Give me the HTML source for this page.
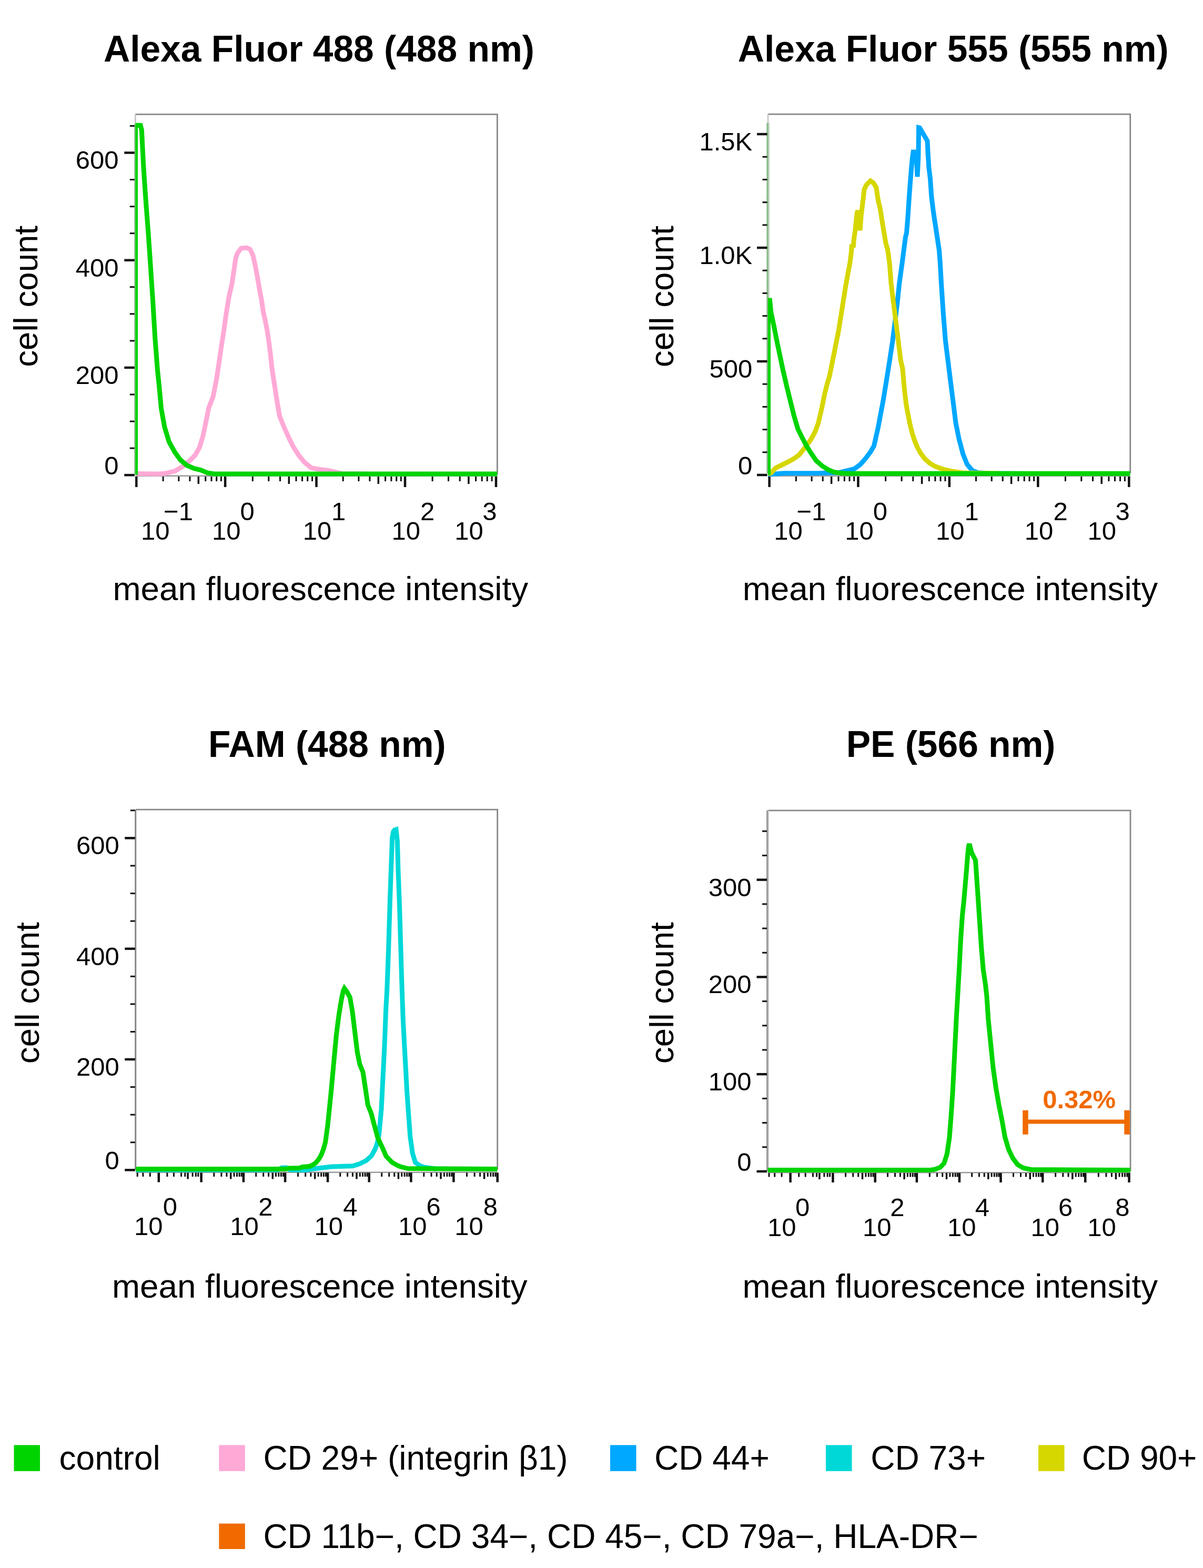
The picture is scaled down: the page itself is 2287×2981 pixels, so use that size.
<!DOCTYPE html>
<html><head><meta charset="utf-8"><title>Flow cytometry histograms</title>
<style>html,body{margin:0;padding:0;background:#fff;}svg{display:block;}</style></head>
<body>
<svg width="2287" height="2981" viewBox="0 0 2287 2981" font-family='"Liberation Sans", sans-serif'>
<rect width="100%" height="100%" fill="#fff"/>
<text x="606.4" y="116.6" font-size="69.5" text-anchor="middle" font-weight="bold">Alexa Fluor 488 (488 nm)</text>
<text x="1812.3" y="117" font-size="69.5" text-anchor="middle" font-weight="bold">Alexa Fluor 555 (555 nm)</text>
<text x="621.8" y="1438.5" font-size="69.5" text-anchor="middle" font-weight="bold">FAM (488 nm)</text>
<text x="1807.6" y="1439" font-size="69.5" text-anchor="middle" font-weight="bold">PE (566 nm)</text>
<text x="609.3" y="1141" font-size="63.7" text-anchor="middle">mean fluorescence intensity</text>
<text x="1806.4" y="1141" font-size="63.7" text-anchor="middle">mean fluorescence intensity</text>
<text x="607.8" y="2467.1" font-size="63.7" text-anchor="middle">mean fluorescence intensity</text>
<text x="1806.3" y="2467.1" font-size="63.7" text-anchor="middle">mean fluorescence intensity</text>
<text transform="translate(70.8,563.3) rotate(-90)" font-size="63.7" text-anchor="middle">cell count</text>
<text transform="translate(1280.3,563.6) rotate(-90)" font-size="63.7" text-anchor="middle">cell count</text>
<text transform="translate(73.5,1887.6) rotate(-90)" font-size="63.7" text-anchor="middle">cell count</text>
<text transform="translate(1279.9,1887.6) rotate(-90)" font-size="63.7" text-anchor="middle">cell count</text>
<defs><clipPath id="c1"><rect x="257.3" y="210" width="688.1" height="696"/></clipPath><clipPath id="c2"><rect x="1460" y="210" width="688.7" height="696"/></clipPath><clipPath id="c3"><rect x="258.2" y="1530" width="687.5" height="699"/></clipPath><clipPath id="c4"><rect x="1459.5" y="1530" width="689.5" height="702"/></clipPath></defs>
<line x1="257.3" y1="904.8" x2="945.4" y2="904.8" stroke="#9a9a9a" stroke-width="2.5"/>
<path d="M257.3,217.4 H945.4 V902.5" fill="none" stroke="#888" stroke-width="2.8" stroke-linejoin="miter"/>
<line x1="257.3" y1="217.4" x2="257.3" y2="236" stroke="#c8c8c8" stroke-width="3"/>
<line x1="256.5" y1="236" x2="256.5" y2="902.5" stroke="#86bb86" stroke-width="2.4"/>
<line x1="258.7" y1="236" x2="258.7" y2="902.5" stroke="#b0cbb0" stroke-width="2"/>
<line x1="236.3" y1="903.2" x2="255.8" y2="903.2" stroke="#111" stroke-width="4.5"/>
<line x1="236.3" y1="698.9" x2="255.8" y2="698.9" stroke="#111" stroke-width="4.5"/>
<line x1="236.3" y1="494.7" x2="255.8" y2="494.7" stroke="#111" stroke-width="4.5"/>
<line x1="236.3" y1="290.4" x2="255.8" y2="290.4" stroke="#111" stroke-width="4.5"/>
<line x1="246.8" y1="852.1" x2="255.8" y2="852.1" stroke="#111" stroke-width="3"/>
<line x1="246.8" y1="801.1" x2="255.8" y2="801.1" stroke="#111" stroke-width="3"/>
<line x1="246.8" y1="750" x2="255.8" y2="750" stroke="#111" stroke-width="3"/>
<line x1="246.8" y1="647.9" x2="255.8" y2="647.9" stroke="#111" stroke-width="3"/>
<line x1="246.8" y1="596.8" x2="255.8" y2="596.8" stroke="#111" stroke-width="3"/>
<line x1="246.8" y1="545.7" x2="255.8" y2="545.7" stroke="#111" stroke-width="3"/>
<line x1="246.8" y1="443.6" x2="255.8" y2="443.6" stroke="#111" stroke-width="3"/>
<line x1="246.8" y1="392.6" x2="255.8" y2="392.6" stroke="#111" stroke-width="3"/>
<line x1="246.8" y1="341.5" x2="255.8" y2="341.5" stroke="#111" stroke-width="3"/>
<line x1="246.8" y1="239.4" x2="255.8" y2="239.4" stroke="#111" stroke-width="3"/>
<text x="225.4" y="901.7" font-size="49" text-anchor="end">0</text>
<text x="225.4" y="729.9" font-size="49" text-anchor="end">200</text>
<text x="225.4" y="525.7" font-size="49" text-anchor="end">400</text>
<text x="225.4" y="321.4" font-size="49" text-anchor="end">600</text>
<line x1="259.3" y1="906" x2="259.3" y2="926" stroke="#111" stroke-width="4.5"/>
<line x1="428.1" y1="906" x2="428.1" y2="926" stroke="#111" stroke-width="4.5"/>
<line x1="601.5" y1="906" x2="601.5" y2="926" stroke="#111" stroke-width="4.5"/>
<line x1="770" y1="906" x2="770" y2="926" stroke="#111" stroke-width="4.5"/>
<line x1="943" y1="906" x2="943" y2="926" stroke="#111" stroke-width="4.5"/>
<line x1="377.3" y1="906" x2="377.3" y2="920" stroke="#111" stroke-width="3.5"/>
<line x1="549.3" y1="906" x2="549.3" y2="920" stroke="#111" stroke-width="3.5"/>
<line x1="719.3" y1="906" x2="719.3" y2="920" stroke="#111" stroke-width="3.5"/>
<line x1="890.9" y1="906" x2="890.9" y2="920" stroke="#111" stroke-width="3.5"/>
<line x1="310.1" y1="906" x2="310.1" y2="915" stroke="#111" stroke-width="3"/>
<line x1="339.8" y1="906" x2="339.8" y2="915" stroke="#111" stroke-width="3"/>
<line x1="360.9" y1="906" x2="360.9" y2="915" stroke="#111" stroke-width="3"/>
<line x1="390.7" y1="906" x2="390.7" y2="915" stroke="#111" stroke-width="3"/>
<line x1="402" y1="906" x2="402" y2="915" stroke="#111" stroke-width="3"/>
<line x1="411.7" y1="906" x2="411.7" y2="915" stroke="#111" stroke-width="3"/>
<line x1="420.4" y1="906" x2="420.4" y2="915" stroke="#111" stroke-width="3"/>
<line x1="480.3" y1="906" x2="480.3" y2="915" stroke="#111" stroke-width="3"/>
<line x1="510.8" y1="906" x2="510.8" y2="915" stroke="#111" stroke-width="3"/>
<line x1="532.5" y1="906" x2="532.5" y2="915" stroke="#111" stroke-width="3"/>
<line x1="563" y1="906" x2="563" y2="915" stroke="#111" stroke-width="3"/>
<line x1="574.6" y1="906" x2="574.6" y2="915" stroke="#111" stroke-width="3"/>
<line x1="584.7" y1="906" x2="584.7" y2="915" stroke="#111" stroke-width="3"/>
<line x1="593.6" y1="906" x2="593.6" y2="915" stroke="#111" stroke-width="3"/>
<line x1="652.2" y1="906" x2="652.2" y2="915" stroke="#111" stroke-width="3"/>
<line x1="681.9" y1="906" x2="681.9" y2="915" stroke="#111" stroke-width="3"/>
<line x1="702.9" y1="906" x2="702.9" y2="915" stroke="#111" stroke-width="3"/>
<line x1="732.6" y1="906" x2="732.6" y2="915" stroke="#111" stroke-width="3"/>
<line x1="743.9" y1="906" x2="743.9" y2="915" stroke="#111" stroke-width="3"/>
<line x1="753.7" y1="906" x2="753.7" y2="915" stroke="#111" stroke-width="3"/>
<line x1="762.3" y1="906" x2="762.3" y2="915" stroke="#111" stroke-width="3"/>
<line x1="822.1" y1="906" x2="822.1" y2="915" stroke="#111" stroke-width="3"/>
<line x1="852.5" y1="906" x2="852.5" y2="915" stroke="#111" stroke-width="3"/>
<line x1="874.2" y1="906" x2="874.2" y2="915" stroke="#111" stroke-width="3"/>
<line x1="904.6" y1="906" x2="904.6" y2="915" stroke="#111" stroke-width="3"/>
<line x1="916.2" y1="906" x2="916.2" y2="915" stroke="#111" stroke-width="3"/>
<line x1="926.2" y1="906" x2="926.2" y2="915" stroke="#111" stroke-width="3"/>
<line x1="935.1" y1="906" x2="935.1" y2="915" stroke="#111" stroke-width="3"/>
<text x="267.9" y="1026" font-size="49">10</text>
<text x="311.1" y="988.5" font-size="49">−1</text>
<text x="402.9" y="1026" font-size="49">10</text>
<text x="456.5" y="988.5" font-size="49">0</text>
<text x="575.7" y="1026" font-size="49">10</text>
<text x="630.1" y="988.5" font-size="49">1</text>
<text x="744.4" y="1026" font-size="49">10</text>
<text x="799.1" y="988.5" font-size="49">2</text>
<text x="864.3" y="1026" font-size="49">10</text>
<text x="917.3" y="988.5" font-size="49">3</text>
<path d="M259,900.5 L300,901 L312.9,900.3 L332.1,895.7 L347.1,887.1 L360,876.4 L370.7,865.7 L379.3,850.7 L385.7,829.3 L390.3,807.9 L396.8,775.7 L405,754.3 L411.4,722.1 L415.5,695 L420,664.3 L425.5,628.6 L430.5,592.9 L435.5,563.1 L441,539.3 L444.5,515.5 L448,491.7 L451,482.1 L455,476.5 L458.6,472 L463.3,471.5 L469.3,471 L475.5,474 L481,486 L485,503.6 L489.5,527.4 L493.5,551.2 L497,569 L500.5,592.9 L504.5,610.7 L508,628.6 L511.5,652.4 L514.5,676.2 L517,700 L522,732.9 L527.1,765 L531.4,790.7 L540,812.1 L548.6,831.4 L557.1,848.6 L567.9,865.7 L578.6,878.6 L591.4,889.3 L608.6,892.5 L625.7,894.6 L638.6,897.5 L650,900.5 L700,901" fill="none" stroke="#ffa9d6" stroke-width="9" stroke-linejoin="miter" stroke-miterlimit="3" stroke-linecap="butt" clip-path="url(#c1)"/>
<path d="M257.5,903 L257.5,238.2 L267,238.2 L269.3,247 L272.6,312.8 L277,378.6 L282,444.4 L286.5,510.3 L290.8,576.1 L294.7,641.9 L299.6,705.6 L302.5,732.9 L306.4,775.7 L312.9,812.1 L321.4,840 L332.1,859.3 L342.9,874.3 L355.7,885 L368.6,890.4 L381.4,893.6 L394.3,898.9 L407.1,901 L945.4,901" fill="none" stroke="#00d400" stroke-width="9" stroke-linejoin="miter" stroke-miterlimit="3" stroke-linecap="butt" clip-path="url(#c1)"/>
<line x1="1460" y1="904.8" x2="2148.7" y2="904.8" stroke="#9a9a9a" stroke-width="2.5"/>
<path d="M1460,217.1 H2148.7 V900" fill="none" stroke="#888" stroke-width="2.8" stroke-linejoin="miter"/>
<line x1="1460" y1="217.1" x2="1460" y2="233.8" stroke="#c8c8c8" stroke-width="3"/>
<line x1="1458.7" y1="233.8" x2="1458.7" y2="900" stroke="#86bb86" stroke-width="2.7"/>
<line x1="1461.4" y1="233.8" x2="1461.4" y2="900" stroke="#b3cbb3" stroke-width="2.7"/>
<line x1="1439" y1="903" x2="1458.5" y2="903" stroke="#111" stroke-width="4.5"/>
<line x1="1439" y1="687" x2="1458.5" y2="687" stroke="#111" stroke-width="4.5"/>
<line x1="1439" y1="471" x2="1458.5" y2="471" stroke="#111" stroke-width="4.5"/>
<line x1="1439" y1="255" x2="1458.5" y2="255" stroke="#111" stroke-width="4.5"/>
<line x1="1449.5" y1="859.8" x2="1458.5" y2="859.8" stroke="#111" stroke-width="3"/>
<line x1="1449.5" y1="816.6" x2="1458.5" y2="816.6" stroke="#111" stroke-width="3"/>
<line x1="1449.5" y1="773.4" x2="1458.5" y2="773.4" stroke="#111" stroke-width="3"/>
<line x1="1449.5" y1="730.2" x2="1458.5" y2="730.2" stroke="#111" stroke-width="3"/>
<line x1="1449.5" y1="643.8" x2="1458.5" y2="643.8" stroke="#111" stroke-width="3"/>
<line x1="1449.5" y1="600.6" x2="1458.5" y2="600.6" stroke="#111" stroke-width="3"/>
<line x1="1449.5" y1="557.4" x2="1458.5" y2="557.4" stroke="#111" stroke-width="3"/>
<line x1="1449.5" y1="514.2" x2="1458.5" y2="514.2" stroke="#111" stroke-width="3"/>
<line x1="1449.5" y1="427.8" x2="1458.5" y2="427.8" stroke="#111" stroke-width="3"/>
<line x1="1449.5" y1="384.6" x2="1458.5" y2="384.6" stroke="#111" stroke-width="3"/>
<line x1="1449.5" y1="341.4" x2="1458.5" y2="341.4" stroke="#111" stroke-width="3"/>
<line x1="1449.5" y1="298.2" x2="1458.5" y2="298.2" stroke="#111" stroke-width="3"/>
<text x="1430.3" y="901.5" font-size="49" text-anchor="end">0</text>
<text x="1430.3" y="718" font-size="49" text-anchor="end">500</text>
<text x="1430.3" y="502" font-size="49" text-anchor="end">1.0K</text>
<text x="1430.3" y="286" font-size="49" text-anchor="end">1.5K</text>
<line x1="1462.6" y1="906" x2="1462.6" y2="926" stroke="#111" stroke-width="4.5"/>
<line x1="1631.4" y1="906" x2="1631.4" y2="926" stroke="#111" stroke-width="4.5"/>
<line x1="1804.8" y1="906" x2="1804.8" y2="926" stroke="#111" stroke-width="4.5"/>
<line x1="1973.3" y1="906" x2="1973.3" y2="926" stroke="#111" stroke-width="4.5"/>
<line x1="2146.3" y1="906" x2="2146.3" y2="926" stroke="#111" stroke-width="4.5"/>
<line x1="1580.6" y1="906" x2="1580.6" y2="920" stroke="#111" stroke-width="3.5"/>
<line x1="1752.6" y1="906" x2="1752.6" y2="920" stroke="#111" stroke-width="3.5"/>
<line x1="1922.6" y1="906" x2="1922.6" y2="920" stroke="#111" stroke-width="3.5"/>
<line x1="2094.2" y1="906" x2="2094.2" y2="920" stroke="#111" stroke-width="3.5"/>
<line x1="1513.4" y1="906" x2="1513.4" y2="915" stroke="#111" stroke-width="3"/>
<line x1="1543.1" y1="906" x2="1543.1" y2="915" stroke="#111" stroke-width="3"/>
<line x1="1564.2" y1="906" x2="1564.2" y2="915" stroke="#111" stroke-width="3"/>
<line x1="1594" y1="906" x2="1594" y2="915" stroke="#111" stroke-width="3"/>
<line x1="1605.3" y1="906" x2="1605.3" y2="915" stroke="#111" stroke-width="3"/>
<line x1="1615" y1="906" x2="1615" y2="915" stroke="#111" stroke-width="3"/>
<line x1="1623.7" y1="906" x2="1623.7" y2="915" stroke="#111" stroke-width="3"/>
<line x1="1683.6" y1="906" x2="1683.6" y2="915" stroke="#111" stroke-width="3"/>
<line x1="1714.1" y1="906" x2="1714.1" y2="915" stroke="#111" stroke-width="3"/>
<line x1="1735.8" y1="906" x2="1735.8" y2="915" stroke="#111" stroke-width="3"/>
<line x1="1766.3" y1="906" x2="1766.3" y2="915" stroke="#111" stroke-width="3"/>
<line x1="1777.9" y1="906" x2="1777.9" y2="915" stroke="#111" stroke-width="3"/>
<line x1="1788" y1="906" x2="1788" y2="915" stroke="#111" stroke-width="3"/>
<line x1="1796.9" y1="906" x2="1796.9" y2="915" stroke="#111" stroke-width="3"/>
<line x1="1855.5" y1="906" x2="1855.5" y2="915" stroke="#111" stroke-width="3"/>
<line x1="1885.2" y1="906" x2="1885.2" y2="915" stroke="#111" stroke-width="3"/>
<line x1="1906.2" y1="906" x2="1906.2" y2="915" stroke="#111" stroke-width="3"/>
<line x1="1935.9" y1="906" x2="1935.9" y2="915" stroke="#111" stroke-width="3"/>
<line x1="1947.2" y1="906" x2="1947.2" y2="915" stroke="#111" stroke-width="3"/>
<line x1="1957" y1="906" x2="1957" y2="915" stroke="#111" stroke-width="3"/>
<line x1="1965.6" y1="906" x2="1965.6" y2="915" stroke="#111" stroke-width="3"/>
<line x1="2025.4" y1="906" x2="2025.4" y2="915" stroke="#111" stroke-width="3"/>
<line x1="2055.8" y1="906" x2="2055.8" y2="915" stroke="#111" stroke-width="3"/>
<line x1="2077.5" y1="906" x2="2077.5" y2="915" stroke="#111" stroke-width="3"/>
<line x1="2107.9" y1="906" x2="2107.9" y2="915" stroke="#111" stroke-width="3"/>
<line x1="2119.5" y1="906" x2="2119.5" y2="915" stroke="#111" stroke-width="3"/>
<line x1="2129.5" y1="906" x2="2129.5" y2="915" stroke="#111" stroke-width="3"/>
<line x1="2138.4" y1="906" x2="2138.4" y2="915" stroke="#111" stroke-width="3"/>
<text x="1471.2" y="1026" font-size="49">10</text>
<text x="1514.4" y="988.5" font-size="49">−1</text>
<text x="1606.2" y="1026" font-size="49">10</text>
<text x="1659.8" y="988.5" font-size="49">0</text>
<text x="1779" y="1026" font-size="49">10</text>
<text x="1833.4" y="988.5" font-size="49">1</text>
<text x="1947.7" y="1026" font-size="49">10</text>
<text x="2002.4" y="988.5" font-size="49">2</text>
<text x="2067.6" y="1026" font-size="49">10</text>
<text x="2120.6" y="988.5" font-size="49">3</text>
<path d="M1460,901.5 L1474,901 L1490,899.8 L1560,899.5 L1595,898.5 L1610,895 L1624.3,891.4 L1635.7,882.9 L1645.7,871.4 L1654.3,860 L1661.4,848 L1669.4,812.7 L1678.9,762.2 L1685.8,720 L1691.3,685.3 L1696.8,648.8 L1701.4,612.2 L1705.9,575.7 L1709.6,539.2 L1715.1,499.9 L1721.5,450 L1723.4,443.6 L1726,411.7 L1728.5,373.4 L1731,340 L1733,315 L1734.5,300 L1736,289 L1741.5,289 L1744,336 L1745.8,300 L1746.6,242.5 L1748.5,243 L1756,256 L1763,268 L1764,290 L1766,320 L1768.5,340 L1770.8,373.4 L1773.9,398.9 L1777.7,424.5 L1781.6,450 L1785.4,475.6 L1787.3,499.9 L1789.5,538.9 L1793.4,597.9 L1797.3,647 L1802.2,686.3 L1807.1,725.6 L1812.1,764.9 L1817,804.2 L1822.9,833.6 L1830.7,863.1 L1838.6,882.8 L1848.4,894.5 L1858.2,898.5 L1880,900 L1950,900.5" fill="none" stroke="#00a8ff" stroke-width="9" stroke-linejoin="miter" stroke-miterlimit="3" stroke-linecap="butt" clip-path="url(#c2)"/>
<path d="M1460,901 L1466,899 L1474.3,890 L1488.6,882.9 L1502.9,875.7 L1510,871.5 L1519,865 L1532.4,848.3 L1541.9,835 L1549,822 L1555.5,805 L1562.5,775 L1568,748 L1572.5,730 L1577,715 L1585.6,672 L1594,630 L1600.4,590 L1607.5,545 L1612,520 L1615.8,500 L1618.3,480 L1619.2,468 L1622.5,467 L1623.3,455 L1625.8,438.3 L1627.5,421.7 L1629.2,405 L1630.8,400 L1635,438 L1637,411 L1639.2,392.5 L1640.8,380 L1642.9,360.2 L1647.5,351 L1654.8,343.7 L1660.3,347.4 L1665.8,356.5 L1669.4,380.3 L1673.2,396.7 L1678.5,429.6 L1684,462.5 L1687.7,475.3 L1691.3,502.6 L1694.1,539.2 L1698.6,575.7 L1703.2,612.2 L1707.8,648.8 L1712.3,685.3 L1715.8,700 L1719.2,738.4 L1722.5,767.1 L1725.9,786.3 L1729.7,805.5 L1734.5,824.7 L1739.3,839.1 L1744.1,850.6 L1749.9,861.2 L1757.6,871.7 L1767.1,880.3 L1776.7,886.1 L1786.3,889.9 L1795.9,892.8 L1810,896 L1830,899 L1900,900" fill="none" stroke="#d6d600" stroke-width="9" stroke-linejoin="miter" stroke-miterlimit="3" stroke-linecap="butt" clip-path="url(#c2)"/>
<path d="M1460.5,903 L1460.5,571 L1463.5,571 L1465.6,592.5 L1471.5,620.8 L1477,649 L1483,677.4 L1489,705.7 L1495.5,734 L1502.5,762.3 L1509.5,790.6 L1517,816 L1525.5,833 L1533,847.2 L1540,858.5 L1551.5,875.7 L1562.9,885.7 L1574.3,892.9 L1584.3,897.1 L1595.7,899.3 L1610,900.3 L2148.7,900.3" fill="none" stroke="#00d400" stroke-width="9" stroke-linejoin="miter" stroke-miterlimit="3" stroke-linecap="butt" clip-path="url(#c2)"/>
<line x1="258.2" y1="2228.7" x2="945.7" y2="2228.7" stroke="#9a9a9a" stroke-width="2.5"/>
<path d="M258.2,1539.2 H945.7 V2224.1" fill="none" stroke="#888" stroke-width="2.8" stroke-linejoin="miter"/>
<line x1="257.7" y1="1539.2" x2="257.7" y2="2224.1" stroke="#858585" stroke-width="3"/>
<line x1="237.2" y1="2224.4" x2="256.7" y2="2224.4" stroke="#111" stroke-width="4.5"/>
<line x1="237.2" y1="2014" x2="256.7" y2="2014" stroke="#111" stroke-width="4.5"/>
<line x1="237.2" y1="1803.7" x2="256.7" y2="1803.7" stroke="#111" stroke-width="4.5"/>
<line x1="237.2" y1="1593.3" x2="256.7" y2="1593.3" stroke="#111" stroke-width="4.5"/>
<line x1="247.7" y1="2171.8" x2="256.7" y2="2171.8" stroke="#111" stroke-width="3"/>
<line x1="247.7" y1="2119.2" x2="256.7" y2="2119.2" stroke="#111" stroke-width="3"/>
<line x1="247.7" y1="2066.6" x2="256.7" y2="2066.6" stroke="#111" stroke-width="3"/>
<line x1="247.7" y1="1961.5" x2="256.7" y2="1961.5" stroke="#111" stroke-width="3"/>
<line x1="247.7" y1="1908.9" x2="256.7" y2="1908.9" stroke="#111" stroke-width="3"/>
<line x1="247.7" y1="1856.3" x2="256.7" y2="1856.3" stroke="#111" stroke-width="3"/>
<line x1="247.7" y1="1751.1" x2="256.7" y2="1751.1" stroke="#111" stroke-width="3"/>
<line x1="247.7" y1="1698.5" x2="256.7" y2="1698.5" stroke="#111" stroke-width="3"/>
<line x1="247.7" y1="1645.9" x2="256.7" y2="1645.9" stroke="#111" stroke-width="3"/>
<line x1="247.7" y1="1540.7" x2="256.7" y2="1540.7" stroke="#111" stroke-width="3"/>
<text x="226.8" y="2222.9" font-size="49" text-anchor="end">0</text>
<text x="226.8" y="2045" font-size="49" text-anchor="end">200</text>
<text x="226.8" y="1834.7" font-size="49" text-anchor="end">400</text>
<text x="226.8" y="1624.3" font-size="49" text-anchor="end">600</text>
<line x1="301.8" y1="2229.5" x2="301.8" y2="2247.5" stroke="#111" stroke-width="4.5"/>
<line x1="382.6" y1="2229.5" x2="382.6" y2="2247.5" stroke="#111" stroke-width="4.5"/>
<line x1="462.9" y1="2229.5" x2="462.9" y2="2247.5" stroke="#111" stroke-width="4.5"/>
<line x1="542.1" y1="2229.5" x2="542.1" y2="2247.5" stroke="#111" stroke-width="4.5"/>
<line x1="623.1" y1="2229.5" x2="623.1" y2="2247.5" stroke="#111" stroke-width="4.5"/>
<line x1="701.7" y1="2229.5" x2="701.7" y2="2247.5" stroke="#111" stroke-width="4.5"/>
<line x1="781.4" y1="2229.5" x2="781.4" y2="2247.5" stroke="#111" stroke-width="4.5"/>
<line x1="862.4" y1="2229.5" x2="862.4" y2="2247.5" stroke="#111" stroke-width="4.5"/>
<line x1="945.7" y1="2229.5" x2="945.7" y2="2247.5" stroke="#111" stroke-width="4.5"/>
<line x1="357.1" y1="2229.5" x2="357.1" y2="2241.5" stroke="#111" stroke-width="3.5"/>
<line x1="438.7" y1="2229.5" x2="438.7" y2="2241.5" stroke="#111" stroke-width="3.5"/>
<line x1="518.3" y1="2229.5" x2="518.3" y2="2241.5" stroke="#111" stroke-width="3.5"/>
<line x1="598.7" y1="2229.5" x2="598.7" y2="2241.5" stroke="#111" stroke-width="3.5"/>
<line x1="678" y1="2229.5" x2="678" y2="2241.5" stroke="#111" stroke-width="3.5"/>
<line x1="757.4" y1="2229.5" x2="757.4" y2="2241.5" stroke="#111" stroke-width="3.5"/>
<line x1="838" y1="2229.5" x2="838" y2="2241.5" stroke="#111" stroke-width="3.5"/>
<line x1="920.6" y1="2229.5" x2="920.6" y2="2241.5" stroke="#111" stroke-width="3.5"/>
<line x1="261.2" y1="2229.5" x2="261.2" y2="2237" stroke="#111" stroke-width="3"/>
<line x1="271.9" y1="2229.5" x2="271.9" y2="2237" stroke="#111" stroke-width="3"/>
<line x1="285.3" y1="2229.5" x2="285.3" y2="2237" stroke="#111" stroke-width="3"/>
<line x1="317.9" y1="2229.5" x2="317.9" y2="2237" stroke="#111" stroke-width="3"/>
<line x1="330.4" y1="2229.5" x2="330.4" y2="2237" stroke="#111" stroke-width="3"/>
<line x1="344.6" y1="2229.5" x2="344.6" y2="2237" stroke="#111" stroke-width="3"/>
<line x1="351.8" y1="2229.5" x2="351.8" y2="2237" stroke="#111" stroke-width="3"/>
<line x1="366.1" y1="2229.5" x2="366.1" y2="2237" stroke="#111" stroke-width="3"/>
<line x1="372.3" y1="2229.5" x2="372.3" y2="2237" stroke="#111" stroke-width="3"/>
<line x1="376.8" y1="2229.5" x2="376.8" y2="2237" stroke="#111" stroke-width="3"/>
<line x1="406.8" y1="2229.5" x2="406.8" y2="2237" stroke="#111" stroke-width="3"/>
<line x1="420.9" y1="2229.5" x2="420.9" y2="2237" stroke="#111" stroke-width="3"/>
<line x1="430.9" y1="2229.5" x2="430.9" y2="2237" stroke="#111" stroke-width="3"/>
<line x1="445.1" y1="2229.5" x2="445.1" y2="2237" stroke="#111" stroke-width="3"/>
<line x1="450.5" y1="2229.5" x2="450.5" y2="2237" stroke="#111" stroke-width="3"/>
<line x1="455.1" y1="2229.5" x2="455.1" y2="2237" stroke="#111" stroke-width="3"/>
<line x1="459.2" y1="2229.5" x2="459.2" y2="2237" stroke="#111" stroke-width="3"/>
<line x1="486.7" y1="2229.5" x2="486.7" y2="2237" stroke="#111" stroke-width="3"/>
<line x1="500.7" y1="2229.5" x2="500.7" y2="2237" stroke="#111" stroke-width="3"/>
<line x1="510.6" y1="2229.5" x2="510.6" y2="2237" stroke="#111" stroke-width="3"/>
<line x1="524.5" y1="2229.5" x2="524.5" y2="2237" stroke="#111" stroke-width="3"/>
<line x1="529.8" y1="2229.5" x2="529.8" y2="2237" stroke="#111" stroke-width="3"/>
<line x1="534.4" y1="2229.5" x2="534.4" y2="2237" stroke="#111" stroke-width="3"/>
<line x1="538.5" y1="2229.5" x2="538.5" y2="2237" stroke="#111" stroke-width="3"/>
<line x1="566.5" y1="2229.5" x2="566.5" y2="2237" stroke="#111" stroke-width="3"/>
<line x1="580.7" y1="2229.5" x2="580.7" y2="2237" stroke="#111" stroke-width="3"/>
<line x1="590.9" y1="2229.5" x2="590.9" y2="2237" stroke="#111" stroke-width="3"/>
<line x1="605.1" y1="2229.5" x2="605.1" y2="2237" stroke="#111" stroke-width="3"/>
<line x1="610.6" y1="2229.5" x2="610.6" y2="2237" stroke="#111" stroke-width="3"/>
<line x1="615.3" y1="2229.5" x2="615.3" y2="2237" stroke="#111" stroke-width="3"/>
<line x1="619.4" y1="2229.5" x2="619.4" y2="2237" stroke="#111" stroke-width="3"/>
<line x1="646.8" y1="2229.5" x2="646.8" y2="2237" stroke="#111" stroke-width="3"/>
<line x1="660.6" y1="2229.5" x2="660.6" y2="2237" stroke="#111" stroke-width="3"/>
<line x1="670.4" y1="2229.5" x2="670.4" y2="2237" stroke="#111" stroke-width="3"/>
<line x1="684.3" y1="2229.5" x2="684.3" y2="2237" stroke="#111" stroke-width="3"/>
<line x1="689.5" y1="2229.5" x2="689.5" y2="2237" stroke="#111" stroke-width="3"/>
<line x1="694.1" y1="2229.5" x2="694.1" y2="2237" stroke="#111" stroke-width="3"/>
<line x1="698.1" y1="2229.5" x2="698.1" y2="2237" stroke="#111" stroke-width="3"/>
<line x1="725.7" y1="2229.5" x2="725.7" y2="2237" stroke="#111" stroke-width="3"/>
<line x1="739.7" y1="2229.5" x2="739.7" y2="2237" stroke="#111" stroke-width="3"/>
<line x1="749.7" y1="2229.5" x2="749.7" y2="2237" stroke="#111" stroke-width="3"/>
<line x1="763.7" y1="2229.5" x2="763.7" y2="2237" stroke="#111" stroke-width="3"/>
<line x1="769.1" y1="2229.5" x2="769.1" y2="2237" stroke="#111" stroke-width="3"/>
<line x1="773.7" y1="2229.5" x2="773.7" y2="2237" stroke="#111" stroke-width="3"/>
<line x1="777.8" y1="2229.5" x2="777.8" y2="2237" stroke="#111" stroke-width="3"/>
<line x1="805.8" y1="2229.5" x2="805.8" y2="2237" stroke="#111" stroke-width="3"/>
<line x1="820" y1="2229.5" x2="820" y2="2237" stroke="#111" stroke-width="3"/>
<line x1="830.2" y1="2229.5" x2="830.2" y2="2237" stroke="#111" stroke-width="3"/>
<line x1="844.4" y1="2229.5" x2="844.4" y2="2237" stroke="#111" stroke-width="3"/>
<line x1="849.9" y1="2229.5" x2="849.9" y2="2237" stroke="#111" stroke-width="3"/>
<line x1="854.6" y1="2229.5" x2="854.6" y2="2237" stroke="#111" stroke-width="3"/>
<line x1="858.7" y1="2229.5" x2="858.7" y2="2237" stroke="#111" stroke-width="3"/>
<line x1="887.5" y1="2229.5" x2="887.5" y2="2237" stroke="#111" stroke-width="3"/>
<line x1="902.1" y1="2229.5" x2="902.1" y2="2237" stroke="#111" stroke-width="3"/>
<line x1="912.6" y1="2229.5" x2="912.6" y2="2237" stroke="#111" stroke-width="3"/>
<line x1="927.2" y1="2229.5" x2="927.2" y2="2237" stroke="#111" stroke-width="3"/>
<line x1="932.8" y1="2229.5" x2="932.8" y2="2237" stroke="#111" stroke-width="3"/>
<line x1="937.6" y1="2229.5" x2="937.6" y2="2237" stroke="#111" stroke-width="3"/>
<line x1="941.9" y1="2229.5" x2="941.9" y2="2237" stroke="#111" stroke-width="3"/>
<text x="255.1" y="2347.6" font-size="49">10</text>
<text x="309.7" y="2310.7" font-size="49">0</text>
<text x="437.2" y="2347.6" font-size="49">10</text>
<text x="491.3" y="2310.7" font-size="49">2</text>
<text x="597.6" y="2347.6" font-size="49">10</text>
<text x="652.3" y="2310.7" font-size="49">4</text>
<text x="757.1" y="2347.6" font-size="49">10</text>
<text x="810.4" y="2310.7" font-size="49">6</text>
<text x="864.2" y="2347.6" font-size="49">10</text>
<text x="918.7" y="2310.7" font-size="49">8</text>
<path d="M258,2224 L528,2224 L536,2220 L544,2220 L552,2224 L580,2224.5 L600,2221.5 L631,2218.1 L670.2,2216.8 L683.3,2212.9 L696.4,2206.3 L706.5,2197 L713.5,2184 L717.5,2172 L720.5,2157 L725,2108.3 L728.1,2046.2 L731.2,1984.2 L733.5,1922.1 L735.8,1880 L738.5,1808.4 L741.3,1715.3 L744,1637.6 L745.8,1591.1 L747.8,1581 L750,1578 L753,1577 L755.4,1598.8 L756.9,1653.2 L759.3,1715.3 L761.6,1792.9 L764.2,1880 L766.2,1936.6 L768.6,1983.2 L771.2,2029.8 L773.7,2076.3 L777,2122.9 L779.9,2161.7 L784.3,2192.8 L789.5,2209.9 L798.3,2216.1 L806.1,2219 L830,2222.5" fill="none" stroke="#00d8d8" stroke-width="9" stroke-linejoin="miter" stroke-miterlimit="3" stroke-linecap="butt" clip-path="url(#c3)"/>
<path d="M258,2222.5 L543,2222.5 L548,2221 L570,2220.5 L575,2218.5 L588,2217.5 L594,2215 L600,2211 L606,2204 L611,2195 L614.5,2186 L618.5,2172 L623,2139.4 L629.3,2077.3 L635,2015.2 L639.3,1968.6 L644.2,1929.8 L649.3,1898.8 L652.5,1884 L654.8,1879 L659,1884.8 L665.2,1895.7 L669.8,1922.1 L674.5,1960.9 L679.2,1999.7 L683.8,2023 L690,2038.5 L694.7,2069.5 L699.3,2100.6 L705.5,2116.1 L711.7,2139.4 L718,2162.7 L727,2182 L734,2198 L745.5,2210 L754.8,2215.3 L761.1,2218 L775,2221.5 L945.7,2222.5" fill="none" stroke="#00d400" stroke-width="9" stroke-linejoin="miter" stroke-miterlimit="3" stroke-linecap="butt" clip-path="url(#c3)"/>
<line x1="1459.5" y1="2229.2" x2="2149" y2="2229.2" stroke="#9a9a9a" stroke-width="2.5"/>
<path d="M1459.5,1540.8 H2149 V2226.4" fill="none" stroke="#888" stroke-width="2.8" stroke-linejoin="miter"/>
<line x1="1458.5" y1="1540.8" x2="1458.5" y2="2226.4" stroke="#9a9a9a" stroke-width="3"/>
<line x1="1461" y1="1540.8" x2="1461" y2="2226.4" stroke="#cccccc" stroke-width="2"/>
<line x1="1438.5" y1="2227" x2="1458" y2="2227" stroke="#111" stroke-width="4.5"/>
<line x1="1438.5" y1="2042.2" x2="1458" y2="2042.2" stroke="#111" stroke-width="4.5"/>
<line x1="1438.5" y1="1857.4" x2="1458" y2="1857.4" stroke="#111" stroke-width="4.5"/>
<line x1="1438.5" y1="1672.6" x2="1458" y2="1672.6" stroke="#111" stroke-width="4.5"/>
<line x1="1449" y1="2180.8" x2="1458" y2="2180.8" stroke="#111" stroke-width="3"/>
<line x1="1449" y1="2134.6" x2="1458" y2="2134.6" stroke="#111" stroke-width="3"/>
<line x1="1449" y1="2088.4" x2="1458" y2="2088.4" stroke="#111" stroke-width="3"/>
<line x1="1449" y1="1996" x2="1458" y2="1996" stroke="#111" stroke-width="3"/>
<line x1="1449" y1="1949.8" x2="1458" y2="1949.8" stroke="#111" stroke-width="3"/>
<line x1="1449" y1="1903.6" x2="1458" y2="1903.6" stroke="#111" stroke-width="3"/>
<line x1="1449" y1="1811.2" x2="1458" y2="1811.2" stroke="#111" stroke-width="3"/>
<line x1="1449" y1="1765" x2="1458" y2="1765" stroke="#111" stroke-width="3"/>
<line x1="1449" y1="1718.8" x2="1458" y2="1718.8" stroke="#111" stroke-width="3"/>
<line x1="1449" y1="1626.4" x2="1458" y2="1626.4" stroke="#111" stroke-width="3"/>
<line x1="1449" y1="1580.2" x2="1458" y2="1580.2" stroke="#111" stroke-width="3"/>
<text x="1428.4" y="2225.5" font-size="49" text-anchor="end">0</text>
<text x="1428.4" y="2073.2" font-size="49" text-anchor="end">100</text>
<text x="1428.4" y="1888.4" font-size="49" text-anchor="end">200</text>
<text x="1428.4" y="1703.6" font-size="49" text-anchor="end">300</text>
<line x1="1502.6" y1="2230" x2="1502.6" y2="2248" stroke="#111" stroke-width="4.5"/>
<line x1="1583.4" y1="2230" x2="1583.4" y2="2248" stroke="#111" stroke-width="4.5"/>
<line x1="1663.7" y1="2230" x2="1663.7" y2="2248" stroke="#111" stroke-width="4.5"/>
<line x1="1742.9" y1="2230" x2="1742.9" y2="2248" stroke="#111" stroke-width="4.5"/>
<line x1="1823.9" y1="2230" x2="1823.9" y2="2248" stroke="#111" stroke-width="4.5"/>
<line x1="1902.5" y1="2230" x2="1902.5" y2="2248" stroke="#111" stroke-width="4.5"/>
<line x1="1982.2" y1="2230" x2="1982.2" y2="2248" stroke="#111" stroke-width="4.5"/>
<line x1="2063.2" y1="2230" x2="2063.2" y2="2248" stroke="#111" stroke-width="4.5"/>
<line x1="2146.5" y1="2230" x2="2146.5" y2="2248" stroke="#111" stroke-width="4.5"/>
<line x1="1557.9" y1="2230" x2="1557.9" y2="2242" stroke="#111" stroke-width="3.5"/>
<line x1="1639.5" y1="2230" x2="1639.5" y2="2242" stroke="#111" stroke-width="3.5"/>
<line x1="1719.1" y1="2230" x2="1719.1" y2="2242" stroke="#111" stroke-width="3.5"/>
<line x1="1799.5" y1="2230" x2="1799.5" y2="2242" stroke="#111" stroke-width="3.5"/>
<line x1="1878.8" y1="2230" x2="1878.8" y2="2242" stroke="#111" stroke-width="3.5"/>
<line x1="1958.2" y1="2230" x2="1958.2" y2="2242" stroke="#111" stroke-width="3.5"/>
<line x1="2038.8" y1="2230" x2="2038.8" y2="2242" stroke="#111" stroke-width="3.5"/>
<line x1="2121.4" y1="2230" x2="2121.4" y2="2242" stroke="#111" stroke-width="3.5"/>
<line x1="1462" y1="2230" x2="1462" y2="2237.5" stroke="#111" stroke-width="3"/>
<line x1="1472.7" y1="2230" x2="1472.7" y2="2237.5" stroke="#111" stroke-width="3"/>
<line x1="1486.1" y1="2230" x2="1486.1" y2="2237.5" stroke="#111" stroke-width="3"/>
<line x1="1518.7" y1="2230" x2="1518.7" y2="2237.5" stroke="#111" stroke-width="3"/>
<line x1="1531.2" y1="2230" x2="1531.2" y2="2237.5" stroke="#111" stroke-width="3"/>
<line x1="1545.4" y1="2230" x2="1545.4" y2="2237.5" stroke="#111" stroke-width="3"/>
<line x1="1552.6" y1="2230" x2="1552.6" y2="2237.5" stroke="#111" stroke-width="3"/>
<line x1="1566.9" y1="2230" x2="1566.9" y2="2237.5" stroke="#111" stroke-width="3"/>
<line x1="1573.1" y1="2230" x2="1573.1" y2="2237.5" stroke="#111" stroke-width="3"/>
<line x1="1577.6" y1="2230" x2="1577.6" y2="2237.5" stroke="#111" stroke-width="3"/>
<line x1="1607.6" y1="2230" x2="1607.6" y2="2237.5" stroke="#111" stroke-width="3"/>
<line x1="1621.7" y1="2230" x2="1621.7" y2="2237.5" stroke="#111" stroke-width="3"/>
<line x1="1631.7" y1="2230" x2="1631.7" y2="2237.5" stroke="#111" stroke-width="3"/>
<line x1="1645.9" y1="2230" x2="1645.9" y2="2237.5" stroke="#111" stroke-width="3"/>
<line x1="1651.3" y1="2230" x2="1651.3" y2="2237.5" stroke="#111" stroke-width="3"/>
<line x1="1655.9" y1="2230" x2="1655.9" y2="2237.5" stroke="#111" stroke-width="3"/>
<line x1="1660" y1="2230" x2="1660" y2="2237.5" stroke="#111" stroke-width="3"/>
<line x1="1687.5" y1="2230" x2="1687.5" y2="2237.5" stroke="#111" stroke-width="3"/>
<line x1="1701.5" y1="2230" x2="1701.5" y2="2237.5" stroke="#111" stroke-width="3"/>
<line x1="1711.4" y1="2230" x2="1711.4" y2="2237.5" stroke="#111" stroke-width="3"/>
<line x1="1725.3" y1="2230" x2="1725.3" y2="2237.5" stroke="#111" stroke-width="3"/>
<line x1="1730.6" y1="2230" x2="1730.6" y2="2237.5" stroke="#111" stroke-width="3"/>
<line x1="1735.2" y1="2230" x2="1735.2" y2="2237.5" stroke="#111" stroke-width="3"/>
<line x1="1739.3" y1="2230" x2="1739.3" y2="2237.5" stroke="#111" stroke-width="3"/>
<line x1="1767.3" y1="2230" x2="1767.3" y2="2237.5" stroke="#111" stroke-width="3"/>
<line x1="1781.5" y1="2230" x2="1781.5" y2="2237.5" stroke="#111" stroke-width="3"/>
<line x1="1791.7" y1="2230" x2="1791.7" y2="2237.5" stroke="#111" stroke-width="3"/>
<line x1="1805.9" y1="2230" x2="1805.9" y2="2237.5" stroke="#111" stroke-width="3"/>
<line x1="1811.4" y1="2230" x2="1811.4" y2="2237.5" stroke="#111" stroke-width="3"/>
<line x1="1816.1" y1="2230" x2="1816.1" y2="2237.5" stroke="#111" stroke-width="3"/>
<line x1="1820.2" y1="2230" x2="1820.2" y2="2237.5" stroke="#111" stroke-width="3"/>
<line x1="1847.6" y1="2230" x2="1847.6" y2="2237.5" stroke="#111" stroke-width="3"/>
<line x1="1861.4" y1="2230" x2="1861.4" y2="2237.5" stroke="#111" stroke-width="3"/>
<line x1="1871.2" y1="2230" x2="1871.2" y2="2237.5" stroke="#111" stroke-width="3"/>
<line x1="1885.1" y1="2230" x2="1885.1" y2="2237.5" stroke="#111" stroke-width="3"/>
<line x1="1890.3" y1="2230" x2="1890.3" y2="2237.5" stroke="#111" stroke-width="3"/>
<line x1="1894.9" y1="2230" x2="1894.9" y2="2237.5" stroke="#111" stroke-width="3"/>
<line x1="1898.9" y1="2230" x2="1898.9" y2="2237.5" stroke="#111" stroke-width="3"/>
<line x1="1926.5" y1="2230" x2="1926.5" y2="2237.5" stroke="#111" stroke-width="3"/>
<line x1="1940.5" y1="2230" x2="1940.5" y2="2237.5" stroke="#111" stroke-width="3"/>
<line x1="1950.5" y1="2230" x2="1950.5" y2="2237.5" stroke="#111" stroke-width="3"/>
<line x1="1964.5" y1="2230" x2="1964.5" y2="2237.5" stroke="#111" stroke-width="3"/>
<line x1="1969.9" y1="2230" x2="1969.9" y2="2237.5" stroke="#111" stroke-width="3"/>
<line x1="1974.5" y1="2230" x2="1974.5" y2="2237.5" stroke="#111" stroke-width="3"/>
<line x1="1978.6" y1="2230" x2="1978.6" y2="2237.5" stroke="#111" stroke-width="3"/>
<line x1="2006.6" y1="2230" x2="2006.6" y2="2237.5" stroke="#111" stroke-width="3"/>
<line x1="2020.8" y1="2230" x2="2020.8" y2="2237.5" stroke="#111" stroke-width="3"/>
<line x1="2031" y1="2230" x2="2031" y2="2237.5" stroke="#111" stroke-width="3"/>
<line x1="2045.2" y1="2230" x2="2045.2" y2="2237.5" stroke="#111" stroke-width="3"/>
<line x1="2050.7" y1="2230" x2="2050.7" y2="2237.5" stroke="#111" stroke-width="3"/>
<line x1="2055.4" y1="2230" x2="2055.4" y2="2237.5" stroke="#111" stroke-width="3"/>
<line x1="2059.5" y1="2230" x2="2059.5" y2="2237.5" stroke="#111" stroke-width="3"/>
<line x1="2088.3" y1="2230" x2="2088.3" y2="2237.5" stroke="#111" stroke-width="3"/>
<line x1="2102.9" y1="2230" x2="2102.9" y2="2237.5" stroke="#111" stroke-width="3"/>
<line x1="2113.4" y1="2230" x2="2113.4" y2="2237.5" stroke="#111" stroke-width="3"/>
<line x1="2128" y1="2230" x2="2128" y2="2237.5" stroke="#111" stroke-width="3"/>
<line x1="2133.6" y1="2230" x2="2133.6" y2="2237.5" stroke="#111" stroke-width="3"/>
<line x1="2138.4" y1="2230" x2="2138.4" y2="2237.5" stroke="#111" stroke-width="3"/>
<line x1="2142.7" y1="2230" x2="2142.7" y2="2237.5" stroke="#111" stroke-width="3"/>
<text x="1459.1" y="2350.2" font-size="49">10</text>
<text x="1511.9" y="2312.1" font-size="49">0</text>
<text x="1640" y="2350.2" font-size="49">10</text>
<text x="1692.3" y="2312.1" font-size="49">2</text>
<text x="1801.1" y="2350.2" font-size="49">10</text>
<text x="1853.8" y="2312.1" font-size="49">4</text>
<text x="1959.6" y="2350.2" font-size="49">10</text>
<text x="2011.9" y="2312.1" font-size="49">6</text>
<text x="2067.2" y="2350.2" font-size="49">10</text>
<text x="2120.2" y="2312.1" font-size="49">8</text>
<path d="M1459.5,2224.5 L1770,2224.3 L1777.8,2223 L1787.1,2219.5 L1794.8,2211.5 L1800.3,2194 L1804.9,2163 L1808,2123 L1811.1,2076.3 L1813.5,2029.7 L1815.8,1983.1 L1818.1,1936.6 L1820.8,1890 L1823.5,1843.1 L1826.5,1784.6 L1829.5,1740.8 L1832.5,1711.5 L1835,1682.3 L1837.5,1653.1 L1839.8,1623.8 L1841.6,1608 L1842.8,1604.5 L1847.2,1620.9 L1854.5,1635.5 L1856.7,1667.7 L1859.7,1711.5 L1862.6,1755.4 L1865.5,1799.2 L1869.2,1843.1 L1873.5,1872.3 L1876,1895 L1878.7,1936.6 L1883.3,1983.1 L1888,2029.7 L1893.4,2068.5 L1898.8,2099.6 L1905,2130.6 L1910.5,2161.7 L1917.5,2185.5 L1925.2,2201.5 L1934.5,2214 L1945.4,2220.5 L1960,2223.5 L2149,2224.5" fill="none" stroke="#00d400" stroke-width="9" stroke-linejoin="miter" stroke-miterlimit="3" stroke-linecap="butt" clip-path="url(#c4)"/>
<line x1="1950" y1="2132.5" x2="2143" y2="2132.5" stroke="#f06a00" stroke-width="8"/>
<rect x="1944.2" y="2110.8" width="10.5" height="46" fill="#f06a00"/>
<rect x="2137.3" y="2110.8" width="10.5" height="46" fill="#f06a00"/>
<text x="2051.7" y="2107" font-size="49" text-anchor="middle" font-weight="bold" fill="#f06a00">0.32%</text>
<rect x="26.5" y="2747.3" width="49.5" height="49.5" fill="#00d400"/>
<text x="112.6" y="2794.2" font-size="64">control</text>
<rect x="416.3" y="2747.3" width="49.5" height="49.5" fill="#ffa9d6"/>
<text x="500.4" y="2794.2" font-size="64">CD 29+ (integrin β1)</text>
<rect x="1160" y="2747.3" width="49.5" height="49.5" fill="#00a8ff"/>
<text x="1244" y="2794.2" font-size="64">CD 44+</text>
<rect x="1570" y="2747.3" width="49.5" height="49.5" fill="#00d8d8"/>
<text x="1655.3" y="2794.2" font-size="64">CD 73+</text>
<rect x="1974" y="2747.3" width="49.5" height="49.5" fill="#d6d600"/>
<text x="2056.7" y="2794.2" font-size="64">CD 90+</text>
<rect x="416.3" y="2896.5" width="49.5" height="48.5" fill="#f06a00"/>
<text x="500.4" y="2943" font-size="64">CD 11b−, CD 34−, CD 45−, CD 79a−, HLA-DR−</text>
</svg>
</body></html>
